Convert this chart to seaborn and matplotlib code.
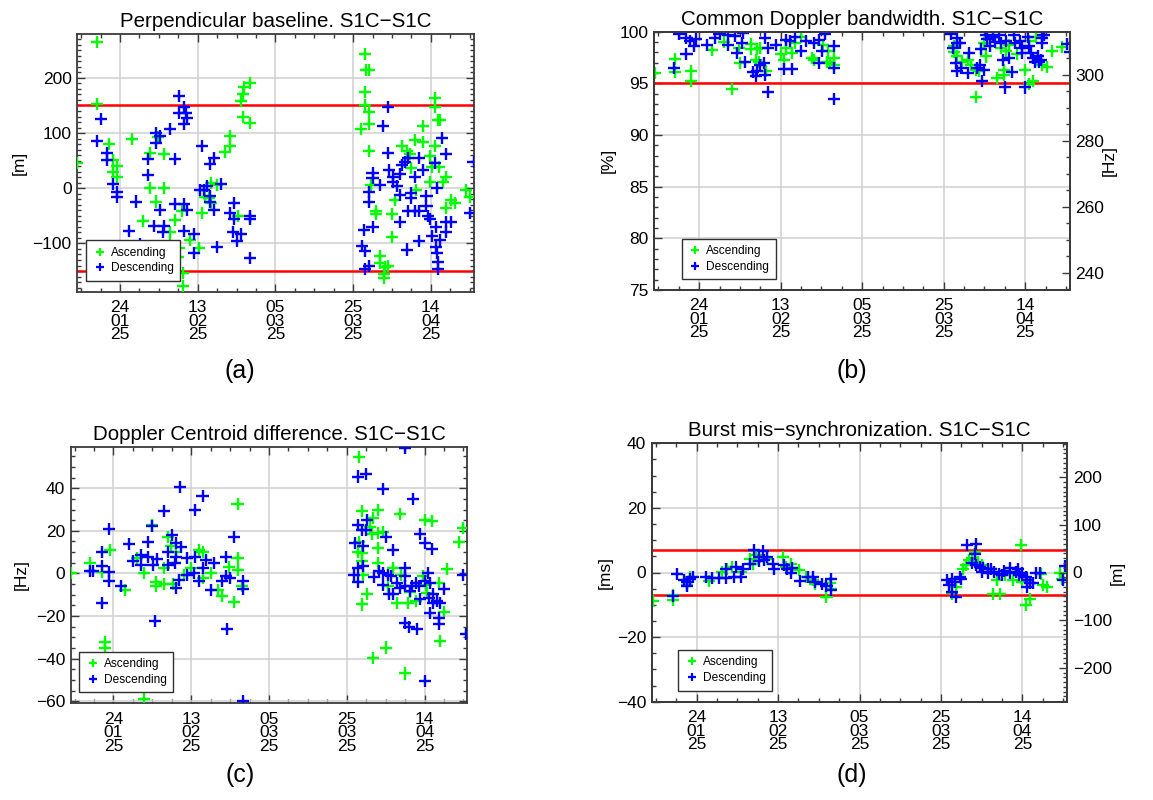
import numpy as np
import pandas as pd
import matplotlib
matplotlib.use("Agg")
import matplotlib.pyplot as plt
import matplotlib.dates as mdates
from matplotlib.ticker import MultipleLocator, FixedLocator
from matplotlib.lines import Line2D
import seaborn as sns

# ---------------- data (days since 2025-01-13, values) ----------------
# (a) Perpendicular baseline [m]
a_asc_days = [5.0, 5.0, 0.0, 8.2, 14.0, 9.3, 10.1, 9.1, 10.1, 18.8, 22.2, 18.8, 22.2, 20.3, 16.9, 20.8,
              25.2, 23.9, 23.9, 23.9, 26.1, 26.0, 27.0, 27.3, 27.3, 29.1, 31.3, 32.1, 33.0, 34.3, 36.0,
              34.3, 33.9, 38.0, 39.3, 39.3, 41.3, 42.2, 42.7, 43.0, 44.4, 42.7, 44.4,
              74.0, 74.3, 75.1, 74.0, 74.0, 75.1, 75.1, 73.1, 75.1, 75.7, 77.0, 77.0, 78.0, 78.0, 79.2,
              80.0, 78.9, 78.9, 80.9, 80.9, 81.9, 83.7, 84.9, 85.6, 86.9, 89.0, 89.0, 86.0, 87.1, 90.7,
              90.7, 91.2, 92.0, 92.0, 92.0, 92.9, 93.3, 93.1, 95.0, 94.2, 95.0, 96.1, 97.2, 100.0, 101.0]
a_asc_vals = [265, 153, 45, 80, 89, 52, 41, 30, 21, 64, 62, 0, 0, -24, -59, 92,
              -58, -79, -97, -124, -109, -124, -42, -153, -178, -93, -109, -44, -15, 9, 6,
              -27, -18, 65, 76, 94, -50, 159, 170, 184, 191, 129, 119,
              244, 214, 214, 174, 150, 138, 117, 107, 68, 5, -42, -47, -123, -136, -142,
              -141, -155, -162, -47, -88, -21, 77, 68, 62, 88, 83, 112, 36, -3, 59,
              12, 39, 77, 164, 148, 124, 124, 39, 21, 12, -35, -21, -27, -4, -15]
a_desc_days = [6.0, 5.0, 7.7, 7.7, 9.1, 10.1, 10.1, 8.0, 13.2, 15.1, 16.2, 18.1, 18.1, 20.3, 21.3, 20.3,
               21.2, 23.9, 25.2, 19.8, 22.2, 22.0, 26.1, 27.4, 26.1, 28.1, 28.2, 27.4, 25.2, 27.4, 28.2,
               27.4, 30.1, 30.1, 32.1, 31.7, 32.6, 33.4, 34.1, 34.1, 35.1, 34.1, 35.1, 37.1, 36.0, 39.3,
               40.3, 40.3, 40.1, 42.2, 41.2, 44.4, 44.4, 44.4,
               80.0, 78.7, 80.0, 76.0, 76.0, 75.1, 75.1, 78.0, 80.3, 81.3, 81.3, 82.2, 83.0, 83.5, 84.3,
               85.2, 86.9, 88.0, 89.0, 83.0, 86.0, 86.0, 85.2, 86.9, 88.0, 89.9, 89.9, 90.3, 90.7, 83.0,
               88.0, 84.9, 73.7, 76.0, 73.2, 74.0, 74.0, 75.1, 92.0, 94.0, 95.0, 92.5, 92.3, 91.2, 93.3,
               92.3, 92.6, 92.9, 92.9, 95.0, 96.1, 95.0, 101.0, 102.0]
a_desc_vals = [125, 85, 64, 52, 8, -6, -15, -109, -77, -24, -101, 53, 24, 100, 94, 82,
               -39, 108, 53, -68, -68, -79, 167, 148, 136, 136, 127, 116, -28, -28, -39,
               -78, -83, -117, 77, -4, -4, 4, -14, -24, -39, 44, 55, 7, -106, -45,
               -27, -55, -79, -83, -95, -50, -56, -126,
               148, 113, 64, 28, 18, -6, -24, 6, 33, 21, 12, 4, 26, 42, 48,
               55, 21, 55, 33, -12, -8, -18, -41, -41, -41, -14, -33, -50, -56, -61,
               -95, -111, -75, -71, -105, -113, -147, -141, 45, 91, 62, 0, -71, -87, -93,
               -106, -117, -133, -147, -62, -61, -79, -44, 48]

# (b) Common Doppler bandwidth [%]
b_asc_days = [0.2, 5.1, 5.1, 9.1, 9.1, 14.1, 17.0, 19.0, 20.7, 21.0, 23.7, 23.7, 24.9, 25.6, 25.3, 26.0,
              27.4, 31.0, 31.8, 32.2, 33.8, 34.6, 36.1, 38.8, 39.2, 41.5, 42.3, 43.0, 42.7, 44.2, 44.2,
              73.5, 74.3, 73.5, 75.5, 77.0, 77.8, 79.0, 79.7, 79.0, 80.1, 81.3, 81.0, 84.0, 85.9, 85.9,
              86.3, 87.1, 83.2, 85.1, 88.9, 90.9, 92.0, 92.9, 92.0, 93.6, 95.1, 96.3, 97.5, 100.0]
b_asc_vals = [96.0, 97.4, 96.1, 96.2, 95.2, 98.2, 99.0, 94.5, 98.4, 97.0, 98.8, 98.3, 97.3, 97.1, 98.3, 98.4,
              96.2, 97.8, 97.3, 98.4, 97.9, 98.9, 99.5, 97.5, 97.3, 98.7, 97.1, 97.0, 98.1, 97.5, 96.8,
              98.6, 97.6, 98.0, 97.1, 97.3, 96.8, 96.3, 96.2, 93.7, 98.3, 97.6, 98.9, 95.5, 96.3, 95.8,
              98.1, 98.7, 99.5, 98.4, 97.8, 96.3, 99.1, 95.2, 94.9, 99.5, 96.8, 96.6, 98.1, 98.5]
b_desc_days = [6.0, 7.9, 8.7, 10.2, 9.8, 7.9, 4.8, 12.9, 14.9, 16.0, 18.2, 18.0, 19.9, 20.2, 21.4, 21.8,
               22.2, 24.1, 25.3, 24.9, 26.0, 26.8, 27.2, 27.2, 28.0, 28.0, 29.9, 32.2, 31.8, 33.8, 33.4,
               34.6, 36.1, 37.3, 39.2, 40.3, 40.3, 41.1, 41.9, 44.2, 44.2, 44.2,
               72.8, 74.3, 75.1, 73.2, 74.3, 74.0, 75.3, 74.3, 76.9, 77.3, 79.3, 80.1, 79.8, 80.9, 80.5,
               81.3, 81.7, 83.2, 83.6, 82.4, 84.7, 85.1, 86.3, 85.5, 87.1, 87.8, 86.0, 88.3, 88.6, 89.8,
               90.2, 90.2, 90.9, 91.7, 92.0, 92.5, 92.9, 93.3, 94.1, 94.8, 94.4, 95.2, 95.2, 95.5, 101.2,
               102.0]
b_desc_vals = [99.8, 99.4, 99.1, 99.3, 98.6, 97.8, 96.5, 98.7, 99.4, 99.8, 99.7, 98.7, 99.6, 97.9, 98.9, 99.9,
               97.1, 96.1, 96.2, 95.7, 96.8, 97.0, 95.8, 99.4, 94.2, 98.4, 98.7, 99.2, 96.4, 96.4, 99.1,
               99.5, 98.1, 99.1, 98.9, 99.2, 97.0, 98.1, 99.8, 98.6, 96.5, 93.5,
               99.8, 99.4, 98.9, 98.4, 98.9, 97.0, 96.5, 96.2, 96.0, 97.9, 96.5, 98.3, 96.8, 96.3, 95.2,
               99.7, 99.3, 99.5, 99.0, 98.6, 99.7, 98.9, 99.1, 97.3, 97.5, 96.1, 94.6, 99.7, 98.9, 99.1,
               97.9, 98.4, 94.6, 99.5, 98.6, 97.9, 97.5, 97.1, 97.6, 97.3, 97.1, 98.9, 99.4, 99.7, 98.8,
               98.0]

# (c) Doppler Centroid difference [Hz]
c_asc_days = [0.0, 4.9, 8.0, 10.1, 8.9, 8.9, 14.0, 17.0, 18.9, 20.9, 21.9, 21.9, 23.9, 23.9, 24.0, 24.9,
              25.7, 26.2, 27.0, 29.2, 30.9, 33.0, 33.9, 34.0, 36.0, 38.0, 38.8, 40.7, 42.0, 42.9, 42.9,
              43.1, 44.0, 18.9,
              74.2, 75.0, 79.1, 77.8, 84.8, 91.0, 93.0, 77.0, 77.4, 79.1, 80.2, 74.2, 74.0, 75.0, 79.1,
              75.0, 79.1, 75.3, 76.1, 75.0, 81.0, 77.8, 82.9, 81.6, 83.8, 86.7, 86.1, 88.9, 90.6, 91.4,
              91.6, 94.8, 95.9, 95.0, 96.7, 99.9, 100.8, 87.2, 85.0]
c_asc_vals = [0.0, 5.0, 0.5, 11.0, -32, -35, -8, 7, 0, 22.7, -4, -6, 2.5, -5, -41, 17,
              13, -5, 10, -0.6, 2.5, 11, 10, -2, 0, -7.6, -10.7, 2.8, -13.5, 32.8, 7.1,
              1.4, -6, -59,
              54.5, 29.3, 29.7, 25.8, 27.8, 25.0, 24.7, 21.9, 18.3, 18.8, 19.6, 14.9, 10.2, 9.8, 11.8,
              5.6, 5.1, -0.6, -9.9, -14.6, -34.8, -39.9, 2.5, -6, -13.8, -13.8, -47, -13, -1.4, -5.3,
              -9.2, -4.5, -18.2, -31.7, 2.0, 14.9, 21.1, -8.9, -0.6]
c_desc_days = [4.9, 5.8, 8.0, 8.0, 8.0, 9.9, 9.9, 9.9, 12.9, 14.9, 15.9, 18.0, 18.0, 20.0, 20.0, 20.9,
               21.2, 22.1, 21.7, 23.9, 24.9, 24.9, 26.0, 27.0, 27.0, 26.8, 28.1, 28.3, 27.9, 27.0, 30.0,
               30.0, 32.0, 32.0, 31.7, 33.0, 33.9, 34.0, 34.9, 36.0, 36.9, 38.8, 39.9, 39.9, 40.1, 40.9,
               42.0, 44.2, 44.2, 44.2,
               86.1, 74.0, 75.9, 80.2, 88.0, 74.0, 76.1, 74.8, 75.9, 81.0, 73.1, 75.1, 89.9, 91.0, 93.0,
               82.9, 72.9, 74.0, 75.1, 74.0, 78.0, 79.3, 80.2, 80.4, 81.6, 82.4, 81.9, 82.9, 83.8, 84.8,
               85.9, 85.9, 86.1, 87.2, 87.9, 88.9, 89.7, 89.9, 91.0, 91.9, 92.3, 92.1, 93.1, 93.3, 94.1,
               92.4, 95.0, 95.9, 94.8, 94.8, 85.9, 87.0, 89.0, 91.0, 100.8, 101.6]
c_desc_vals = [1, 1, 10.2, 3.3, -13.8, 0.5, -3.7, 20.7, -6, 13.8, 5.6, 8.7, 4, 14.6, 7.6, 22.2,
               4, 6.7, -22.4, 29.3, 10.2, 4, 18, 14.1, 7.9, 4.8, 40.8, 12.6, -3.3, -6.8, 7.1,
               -0.6, 29.7, 7.6, 0, -3.7, 36.2, 2.5, 6.4, -7.6, 5.1, -3.7, 7.9, -1.1, -26.2, -2.2,
               16.9, -3.7, -7.3, -60,
               59, 45.5, 46.7, 39.8, 35.1, 22.7, 25, 20.3, 20.3, 16.9, 14.1, 12.9, 18.5, 14.1, 11.3,
               11.0, -0.6, -4.2, 3.6, 2.5, -1.7, 0.9, 0.2, -5.3, -0.6, -1.1, -9.5, -9.5, -4.5, -6.8,
               2.5, -1.4, -5.7, -8.4, -6.1, -4.5, -5.7, -12, -3.7, 0.2, -4.5, -11.5, -9.9, -13.8, -13,
               -18.8, -13.8, -7.3, -20.8, -23.6, -23.4, -25, -25.9, -50.3, -0.6, -28.6]

# (d) Burst mis-synchronization [ms]
d_asc_days = [0.4, 5.2, 5.2, 8.7, 9.3, 14.1, 17.2, 18.5, 19.8, 21.8, 24.1, 24.8, 25.6, 28.3, 32.2, 32.9,
              34.1, 36.2, 37.9, 39.5, 40.2, 42.9, 44.1, 43.7,
              73.7, 74.8, 76.4, 77.2, 77.9, 78.7, 79.3, 80.2, 81.0, 83.7, 85.6, 84.8, 86.8, 88.7, 90.6,
              91.0, 91.8, 92.9, 96.0, 95.6, 96.9, 100.2, 100.6]
d_asc_vals = [-8.9, -8.6, -7.0, -3.9, -1.3, -2.7, 0.2, 1.2, 1.8, 0.2, 4.3, 2.5, 5.4, 4.3, 4.9, 1.8,
              2.5, 0.7, -1.3, -2.4, -3.7, -7.5, -5.0, -3.4,
              -6.5, -4.4, 1.2, 2.3, 3.8, 4.5, 6.4, 3.3, 2.3, -6.8, -6.8, -2.4, -0.8, -2.4, 8.5,
              -2.9, -10.1, -8.3, -3.9, -0.6, -4.5, -0.3, -1.9]
d_desc_days = [5.2, 6.2, 7.9, 8.7, 9.5, 10.2, 8.7, 13.3, 14.8, 16.5, 18.3, 18.3, 20.6, 20.2, 21.8, 22.5,
               24.1, 25.2, 26.4, 27.2, 26.4, 27.5, 28.3, 29.8, 30.0, 32.5, 33.3, 34.1, 34.5, 36.4, 38.3,
               39.5, 40.2, 41.8, 42.9, 44.1, 44.1,
               72.5, 72.9, 73.7, 74.5, 73.7, 74.8, 75.6, 76.0, 77.5, 79.5, 79.3, 78.7, 79.5, 80.6, 81.0,
               81.4, 82.5, 82.5, 83.3, 84.1, 85.2, 86.0, 86.4, 87.9, 87.9, 89.5, 89.8, 90.2, 91.0, 91.8,
               92.2, 92.2, 92.9, 93.6, 94.4, 95.2, 101.4, 101.0]
d_desc_vals = [-7.2, -0.6, -2.4, -2.9, -1.9, -1.3, -4.1, -1.3, -1.7, -1.7, -1.7, 1.2, 1.8, -1.3, -1.3, 1.0,
               2.5, 6.9, 4.9, 6.6, 3.5, 3.8, 4.9, 2.5, 1.2, 2.3, 1.2, -0.3, 1.4, -2.7, -1.3,
               -1.3, -2.9, -3.7, -4.1, -1.9, -5.5,
               -2.4, -3.9, -1.9, -2.9, -6.0, -7.5, -1.3, -1.9, 8.5, 8.7, 5.6, 2.8, 2.3, 1.8, 0.2,
               1.4, 1.2, -0.3, 1.2, 0.2, -0.6, -0.8, 0.4, 1.4, -0.3, 0.2, 1.2, -0.8, -0.3, -1.3,
               -2.4, -4.4, -3.4, -3.4, -0.3, -0.3, 2.0, -2.4]

titles = ["Perpendicular baseline. S1C\u2212S1C",
          "Common Doppler bandwidth. S1C\u2212S1C",
          "Doppler Centroid difference. S1C\u2212S1C",
          "Burst mis\u2212synchronization. S1C\u2212S1C"]
ylabels = ["[m]", "[%]", "[Hz]", "[ms]"]
panel_tags = ["(a)", "(b)", "(c)", "(d)"]
tick_dates = ["2025-01-24", "2025-02-13", "2025-03-05", "2025-03-25", "2025-04-14"]
tick_labels = ["24\n01\n25", "13\n02\n25", "05\n03\n25", "25\n03\n25", "14\n04\n25"]
orbits = ["Ascending", "Descending"]

# ---------------- style ----------------
sns.set_theme(style="white")
plt.rcParams['font.family'] = ['Liberation Sans', 'DejaVu Sans']
plt.rcParams['axes.unicode_minus'] = True
for k in ['text.color', 'axes.labelcolor', 'xtick.labelcolor', 'ytick.labelcolor']:
    plt.rcParams[k] = 'black'

START = pd.Timestamp("2025-01-13")
END = pd.Timestamp("2025-04-25")
palette = {"Ascending": "#00ff00", "Descending": "#0000ff"}
W, H = 1153, 800

fig = plt.figure(figsize=(W / 100, H / 100), dpi=100)

def px_rect(l, r, t, b):
    return [l / W, 1 - b / H, (r - l) / W, (b - t) / H]

rects = [px_rect(77.3, 473.5, 34.3, 292.0),
         px_rect(654.3, 1070.0, 31.7, 290.0),
         px_rect(70.7, 467.3, 446.7, 703.3),
         px_rect(651.7, 1067.3, 443.3, 701.7)]

data = [(a_asc_days, a_asc_vals, a_desc_days, a_desc_vals),
        (b_asc_days, b_asc_vals, b_desc_days, b_desc_vals),
        (c_asc_days, c_asc_vals, c_desc_days, c_desc_vals),
        (d_asc_days, d_asc_vals, d_desc_days, d_desc_vals)]
ylims = [(-188, 279), (75, 100), (-61, 59.5), (-40, 40)]
ymajor = [100, 5, 20, 20]
yminor = [10, 1, 5, 5]
hlines = [[150, -150], [95], [], [7, -7]]
ylabel_x = [-0.127, -0.092, -0.105, -0.093]
legend_anchor = [(0.023, 0.043), (0.066, 0.041), (0.022, 0.043), (0.064, 0.043)]
twin_factor = [None, 3.13, None, 6.78]
twin_labels = [None, "[Hz]", None, "[m]"]
twin_major = [None, 20, None, 100]
twin_minor = [None, 5, None, 10]
twin_label_x = [None, 1.077, None, 1.103]
tag_pos = [(240, 371), (852, 371), (240, 775), (852, 775)]

major_x = mdates.date2num(pd.to_datetime(tick_dates))
minor_x = mdates.date2num(pd.date_range("2025-01-14", "2025-04-24", freq="5D"))
spine_col = "#3a3a3a"
TICK_FS = 12.5

for i in range(4):
    ad, av, dd, dv = data[i]
    df = pd.DataFrame({
        "date": START + pd.to_timedelta(list(ad) + list(dd), unit="D"),
        "value": list(av) + list(dv),
        "orbit": ["Ascending"] * len(ad) + ["Descending"] * len(dd),
    })
    ax = fig.add_axes(rects[i])
    ax.set_axisbelow(True)
    for yv in hlines[i]:
        ax.axhline(yv, color="#ff0000", lw=1.8, zorder=2)
    sns.scatterplot(data=df, x="date", y="value", hue="orbit", hue_order=orbits,
                    palette=palette, marker="+", s=75, linewidth=1.7, legend=False,
                    ax=ax, zorder=3)
    ax.set_xlim(START, END)
    ax.set_ylim(*ylims[i])
    ax.xaxis.set_major_locator(FixedLocator(major_x))
    ax.xaxis.set_minor_locator(FixedLocator(minor_x))
    ax.set_xticklabels(tick_labels)
    ax.yaxis.set_major_locator(MultipleLocator(ymajor[i]))
    ax.yaxis.set_minor_locator(MultipleLocator(yminor[i]))
    ax.grid(True, which="major", color="#cfcfcf", lw=1.1)
    has_twin = twin_factor[i] is not None
    ax.tick_params(which="both", direction="in", top=True, bottom=True, left=True,
                   right=not has_twin, colors=spine_col, labelcolor="black",
                   labelsize=TICK_FS, width=1.0)
    ax.tick_params(which="major", length=6, pad=4)
    ax.tick_params(axis="x", which="major", pad=6)
    ax.tick_params(which="minor", length=3)
    for lab in ax.get_xticklabels():
        lab.set_linespacing(0.88)
    for sp in ax.spines.values():
        sp.set_color(spine_col)
        sp.set_linewidth(1.3)
    ax.set_xlabel("")
    ax.set_ylabel(ylabels[i], fontsize=12.5)
    ax.yaxis.set_label_coords(ylabel_x[i], 0.5)
    ax.set_title(titles[i], fontsize=14.8, pad=5, color="black")

    handles = [Line2D([], [], marker="+", color=palette[o], linestyle="none",
                      markersize=6, markeredgewidth=1.6) for o in orbits]
    leg = ax.legend(handles, orbits, loc="lower left", bbox_to_anchor=legend_anchor[i],
                    borderaxespad=0, fontsize=8.6, frameon=True, fancybox=False,
                    framealpha=1, edgecolor="#303030", borderpad=0.55, labelspacing=0.3,
                    handlelength=1.2, handletextpad=0.3)
    leg.get_frame().set_linewidth(1.0)

    if has_twin:
        ax2 = ax.twinx()
        f = twin_factor[i]
        ax2.set_ylim(ylims[i][0] * f, ylims[i][1] * f)
        ax2.yaxis.set_major_locator(MultipleLocator(twin_major[i]))
        ax2.yaxis.set_minor_locator(MultipleLocator(twin_minor[i]))
        ax2.grid(False)
        ax2.tick_params(which="both", direction="in", right=True, left=False,
                        colors=spine_col, labelcolor="black", labelsize=TICK_FS, width=1.0)
        ax2.tick_params(which="major", length=6, pad=4)
        ax2.tick_params(which="minor", length=3)
        for sp in ax2.spines.values():
            sp.set_color(spine_col)
            sp.set_linewidth(1.3)
        ax2.set_ylabel(twin_labels[i], fontsize=12.5)
        ax2.yaxis.set_label_coords(twin_label_x[i], 0.5)

    fig.text(tag_pos[i][0] / W, 1 - tag_pos[i][1] / H, panel_tags[i],
             ha="center", va="center", fontsize=18)

fig.savefig("out.png", dpi=100)
